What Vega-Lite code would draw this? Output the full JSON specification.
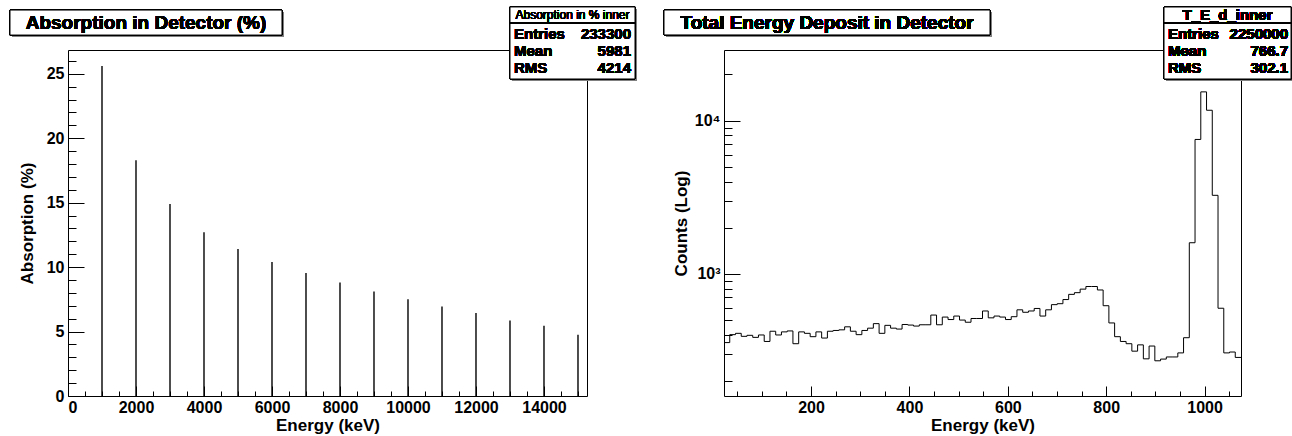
{
  "$schema": "https://vega.github.io/schema/vega-lite/v6.json",
  "background": "white",
  "padding": {"left": 8, "top": 5, "right": 2, "bottom": 2},
  "autosize": {"type": "pad"},
  "bounds": "flush",
  "spacing": 137,
  "config": {
    "font": "Liberation Sans",
    "view": {"stroke": "black", "strokeWidth": 1},
    "axis": {
      "labelFont": "Liberation Sans", "labelFontSize": 16, "labelFontWeight": "bold", "labelColor": "black",
      "titleFont": "Liberation Sans", "titleFontSize": 17, "titleFontWeight": "bold", "titleColor": "black",
      "tickColor": "black", "tickWidth": 1, "domain": false, "grid": false
    },
    "text": {"color": "black"}
  },
  "datasets": {
    "absorption": [
      {"energy": 1000, "absorption": 25.6},
      {"energy": 2000, "absorption": 18.3},
      {"energy": 3000, "absorption": 14.9},
      {"energy": 4000, "absorption": 12.7},
      {"energy": 5000, "absorption": 11.4},
      {"energy": 6000, "absorption": 10.4},
      {"energy": 7000, "absorption": 9.55},
      {"energy": 8000, "absorption": 8.8},
      {"energy": 9000, "absorption": 8.1},
      {"energy": 10000, "absorption": 7.5},
      {"energy": 11000, "absorption": 6.95},
      {"energy": 12000, "absorption": 6.45},
      {"energy": 13000, "absorption": 5.85},
      {"energy": 14000, "absorption": 5.45},
      {"energy": 15000, "absorption": 4.75}
    ],
    "deposit": [
      {"lo": 23.00, "counts": 355}, {"lo": 34.68, "counts": 400}, {"lo": 46.36, "counts": 408},
      {"lo": 58.03, "counts": 390}, {"lo": 69.71, "counts": 396}, {"lo": 81.39, "counts": 384},
      {"lo": 93.07, "counts": 398}, {"lo": 104.74, "counts": 361}, {"lo": 116.42, "counts": 421},
      {"lo": 128.10, "counts": 398}, {"lo": 139.78, "counts": 417}, {"lo": 151.46, "counts": 423},
      {"lo": 163.13, "counts": 349}, {"lo": 174.81, "counts": 417}, {"lo": 186.49, "counts": 408},
      {"lo": 198.17, "counts": 388}, {"lo": 209.84, "counts": 417}, {"lo": 221.52, "counts": 380},
      {"lo": 233.20, "counts": 421}, {"lo": 244.88, "counts": 426}, {"lo": 256.56, "counts": 430},
      {"lo": 268.23, "counts": 450}, {"lo": 279.91, "counts": 421}, {"lo": 291.59, "counts": 400},
      {"lo": 303.27, "counts": 426}, {"lo": 314.94, "counts": 441}, {"lo": 326.62, "counts": 472},
      {"lo": 338.30, "counts": 408}, {"lo": 349.98, "counts": 460}, {"lo": 361.66, "counts": 441},
      {"lo": 373.33, "counts": 435}, {"lo": 385.01, "counts": 466}, {"lo": 396.69, "counts": 462},
      {"lo": 408.37, "counts": 455}, {"lo": 420.04, "counts": 464}, {"lo": 431.72, "counts": 464},
      {"lo": 443.40, "counts": 537}, {"lo": 455.08, "counts": 464}, {"lo": 466.76, "counts": 521},
      {"lo": 478.43, "counts": 502}, {"lo": 490.11, "counts": 529}, {"lo": 501.79, "counts": 498},
      {"lo": 513.47, "counts": 482}, {"lo": 525.15, "counts": 510}, {"lo": 536.82, "counts": 510},
      {"lo": 548.50, "counts": 571}, {"lo": 560.18, "counts": 515}, {"lo": 571.86, "counts": 529},
      {"lo": 583.53, "counts": 521}, {"lo": 595.21, "counts": 502}, {"lo": 606.89, "counts": 524},
      {"lo": 618.57, "counts": 581}, {"lo": 630.25, "counts": 560}, {"lo": 641.92, "counts": 571},
      {"lo": 653.60, "counts": 593}, {"lo": 665.28, "counts": 529}, {"lo": 676.96, "counts": 581},
      {"lo": 688.63, "counts": 628}, {"lo": 700.31, "counts": 637}, {"lo": 711.99, "counts": 678},
      {"lo": 723.67, "counts": 733}, {"lo": 735.35, "counts": 752}, {"lo": 747.02, "counts": 793},
      {"lo": 758.70, "counts": 825}, {"lo": 770.38, "counts": 825}, {"lo": 782.06, "counts": 783},
      {"lo": 793.73, "counts": 618}, {"lo": 805.41, "counts": 477}, {"lo": 817.09, "counts": 388},
      {"lo": 828.77, "counts": 361}, {"lo": 840.45, "counts": 349}, {"lo": 852.12, "counts": 312},
      {"lo": 863.80, "counts": 343}, {"lo": 875.48, "counts": 278}, {"lo": 887.16, "counts": 337},
      {"lo": 898.84, "counts": 270}, {"lo": 910.51, "counts": 277}, {"lo": 922.19, "counts": 286},
      {"lo": 933.87, "counts": 286}, {"lo": 945.55, "counts": 304}, {"lo": 957.22, "counts": 382},
      {"lo": 968.90, "counts": 1593}, {"lo": 980.58, "counts": 7530}, {"lo": 992.26, "counts": 15400},
      {"lo": 1003.94, "counts": 11680}, {"lo": 1015.61, "counts": 3250}, {"lo": 1027.29, "counts": 595},
      {"lo": 1038.97, "counts": 304}, {"lo": 1050.65, "counts": 308}, {"lo": 1062.32, "counts": 284},
      {"lo": 1074.00, "counts": 284}
    ]
  },
  "hconcat": [
    {
      "width": 519,
      "height": 346,
      "data": {"name": "absorption"},
      "resolve": {"axis": {"x": "independent", "y": "independent"}},
      "layer": [
        {
          "mark": {"type": "rule", "color": "black", "strokeWidth": 1.4},
          "encoding": {
            "x": {"field": "energy", "type": "quantitative",
                  "scale": {"domain": [0, 15265], "nice": false, "zero": false},
                  "axis": {"orient": "bottom", "values": [0, 2000, 4000, 6000, 8000, 10000, 12000, 14000], "format": "d",
                           "tickSize": -10, "labelPadding": 13, "title": "Energy (keV)", "titlePadding": 2}},
            "y": {"field": "absorption", "type": "quantitative",
                  "scale": {"domain": [0, 26.85], "nice": false},
                  "axis": {"orient": "left", "values": [0, 5, 10, 15, 20, 25], "tickSize": -16, "labelPadding": 20,
                           "title": "Absorption (%)", "titlePadding": 10}},
            "y2": {"datum": 0}
          }
        },
        {
          "mark": {"type": "point", "opacity": 0},
          "encoding": {
            "x": {"field": "energy", "type": "quantitative",
                  "axis": {"orient": "bottom", "values": [500, 1000, 1500, 2500, 3000, 3500, 4500, 5000, 5500, 6500, 7000, 7500, 8500, 9000, 9500, 10500, 11000, 11500, 12500, 13000, 13500, 14500, 15000],
                           "tickSize": -5, "labels": false, "title": null}},
            "y": {"field": "absorption", "type": "quantitative",
                  "axis": {"orient": "left", "values": [1, 2, 3, 4, 6, 7, 8, 9, 11, 12, 13, 14, 16, 17, 18, 19, 21, 22, 23, 24, 26],
                           "tickSize": -8, "labels": false, "title": null}}
          }
        },
        {
          "mark": {"type": "rect", "fill": "#808080", "xOffset": 2, "x2Offset": 2, "yOffset": 2, "y2Offset": 2},
          "encoding": {"x": {"datum": -1706, "axis": null}, "x2": {"datum": 6294}, "y": {"datum": 29.95, "axis": null}, "y2": {"datum": 28.01}}
        },
        {
          "mark": {"type": "rect", "fill": "white", "stroke": "black", "strokeWidth": 1},
          "encoding": {"x": {"datum": -1706, "axis": null}, "x2": {"datum": 6294}, "y": {"datum": 29.95, "axis": null}, "y2": {"datum": 28.01}}
        },
        {
          "mark": {"type": "text", "text": "Absorption in Detector (%)", "fontSize": 19, "fontWeight": "bold", "align": "center", "baseline": "middle"},
          "encoding": {"x": {"datum": 2294, "axis": null}, "y": {"datum": 28.98, "axis": null}}
        },
        {
          "mark": {"type": "rect", "fill": "#808080", "xOffset": 2, "x2Offset": 2, "yOffset": 2, "y2Offset": 2},
          "encoding": {"x": {"datum": 13000, "axis": null}, "x2": {"datum": 16677}, "y": {"datum": 30.19, "axis": null}, "y2": {"datum": 24.6}}
        },
        {
          "mark": {"type": "rect", "fill": "white", "stroke": "black", "strokeWidth": 1},
          "encoding": {"x": {"datum": 13000, "axis": null}, "x2": {"datum": 16677}, "y": {"datum": 30.19, "axis": null}, "y2": {"datum": 24.6}}
        },
        {
          "mark": {"type": "rule", "color": "black", "strokeWidth": 1},
          "encoding": {"x": {"datum": 13000, "axis": null}, "x2": {"datum": 16677}, "y": {"datum": 28.95, "axis": null}}
        },
        {
          "mark": {"type": "text", "text": "Absorption in % inner", "fontSize": 12, "align": "center", "baseline": "middle"},
          "encoding": {"x": {"datum": 14838, "axis": null}, "y": {"datum": 29.57, "axis": null}}
        },
        {
          "mark": {"type": "text", "text": ["Entries", "Mean", "RMS"], "lineHeight": 17, "fontSize": 15, "fontWeight": "bold", "align": "left", "baseline": "middle"},
          "encoding": {"x": {"datum": 13118, "axis": null}, "y": {"datum": 28.09, "axis": null}}
        },
        {
          "mark": {"type": "text", "text": ["233300", "5981", "4214"], "lineHeight": 17, "fontSize": 15, "fontWeight": "bold", "align": "right", "baseline": "middle"},
          "encoding": {"x": {"datum": 16559, "axis": null}, "y": {"datum": 28.09, "axis": null}}
        }
      ]
    },
    {
      "width": 517,
      "height": 346,
      "data": {"name": "deposit"},
      "resolve": {"axis": {"x": "independent", "y": "independent"}},
      "layer": [
        {
          "mark": {"type": "line", "interpolate": "step-after", "color": "black", "strokeWidth": 1},
          "encoding": {
            "x": {"field": "lo", "type": "quantitative",
                  "scale": {"domain": [23, 1074], "nice": false, "zero": false},
                  "axis": {"orient": "bottom", "values": [200, 400, 600, 800, 1000], "format": "d",
                           "tickSize": -10, "labelPadding": 13, "title": "Energy (keV)", "titlePadding": 2}},
            "y": {"field": "counts", "type": "quantitative",
                  "scale": {"type": "log", "domain": [159, 28900], "nice": false},
                  "axis": {"orient": "left", "values": [1000, 10000], "labelExpr": "datum.value == 1000 ? '10³' : '10⁴'",
                           "tickSize": -16, "labelPadding": 20, "title": "Counts (Log)", "titlePadding": 4}}
          }
        },
        {
          "mark": {"type": "point", "opacity": 0},
          "encoding": {
            "x": {"field": "lo", "type": "quantitative",
                  "axis": {"orient": "bottom", "values": [50, 100, 150, 250, 300, 350, 450, 500, 550, 650, 700, 750, 850, 900, 950, 1050],
                           "tickSize": -5, "labels": false, "title": null}},
            "y": {"field": "counts", "type": "quantitative",
                  "axis": {"orient": "left", "values": [200, 300, 400, 500, 600, 700, 800, 900, 2000, 3000, 4000, 5000, 6000, 7000, 8000, 9000, 20000],
                           "tickSize": -8, "labels": false, "title": null}}
          }
        },
        {
          "mark": {"type": "rect", "fill": "#808080", "xOffset": 2, "x2Offset": 2, "yOffset": 2, "y2Offset": 2},
          "encoding": {"x": {"datum": -98.97, "axis": null}, "x2": {"datum": 563.75}, "y": {"datum": 52720, "axis": null}, "y2": {"datum": 36250}}
        },
        {
          "mark": {"type": "rect", "fill": "white", "stroke": "black", "strokeWidth": 1},
          "encoding": {"x": {"datum": -98.97, "axis": null}, "x2": {"datum": 563.75}, "y": {"datum": 52720, "axis": null}, "y2": {"datum": 36250}}
        },
        {
          "mark": {"type": "text", "text": "Total Energy Deposit in Detector", "fontSize": 19, "fontWeight": "bold", "align": "center", "baseline": "middle"},
          "encoding": {"x": {"datum": 232.4, "axis": null}, "y": {"datum": 43650, "axis": null}}
        },
        {
          "mark": {"type": "rect", "fill": "#808080", "xOffset": 2, "x2Offset": 2, "yOffset": 2, "y2Offset": 2},
          "encoding": {"x": {"datum": 917.5, "axis": null}, "x2": {"datum": 1175.7}, "y": {"datum": 55160, "axis": null}, "y2": {"datum": 18690}}
        },
        {
          "mark": {"type": "rect", "fill": "white", "stroke": "black", "strokeWidth": 1},
          "encoding": {"x": {"datum": 917.5, "axis": null}, "x2": {"datum": 1175.7}, "y": {"datum": 55160, "axis": null}, "y2": {"datum": 18690}}
        },
        {
          "mark": {"type": "rule", "color": "black", "strokeWidth": 1},
          "encoding": {"x": {"datum": 917.5, "axis": null}, "x2": {"datum": 1175.7}, "y": {"datum": 43380, "axis": null}}
        },
        {
          "mark": {"type": "text", "text": "T_E_d_inner", "fontSize": 15, "fontWeight": "bold", "align": "center", "baseline": "middle"},
          "encoding": {"x": {"datum": 1046.6, "axis": null}, "y": {"datum": 48920, "axis": null}}
        },
        {
          "mark": {"type": "text", "text": ["Entries", "Mean", "RMS"], "lineHeight": 17, "fontSize": 15, "fontWeight": "bold", "align": "left", "baseline": "middle"},
          "encoding": {"x": {"datum": 925.6, "axis": null}, "y": {"datum": 36770, "axis": null}}
        },
        {
          "mark": {"type": "text", "text": ["2250000", "766.7", "302.1"], "lineHeight": 17, "fontSize": 15, "fontWeight": "bold", "align": "right", "baseline": "middle"},
          "encoding": {"x": {"datum": 1169.6, "axis": null}, "y": {"datum": 36770, "axis": null}}
        }
      ]
    }
  ]
}
